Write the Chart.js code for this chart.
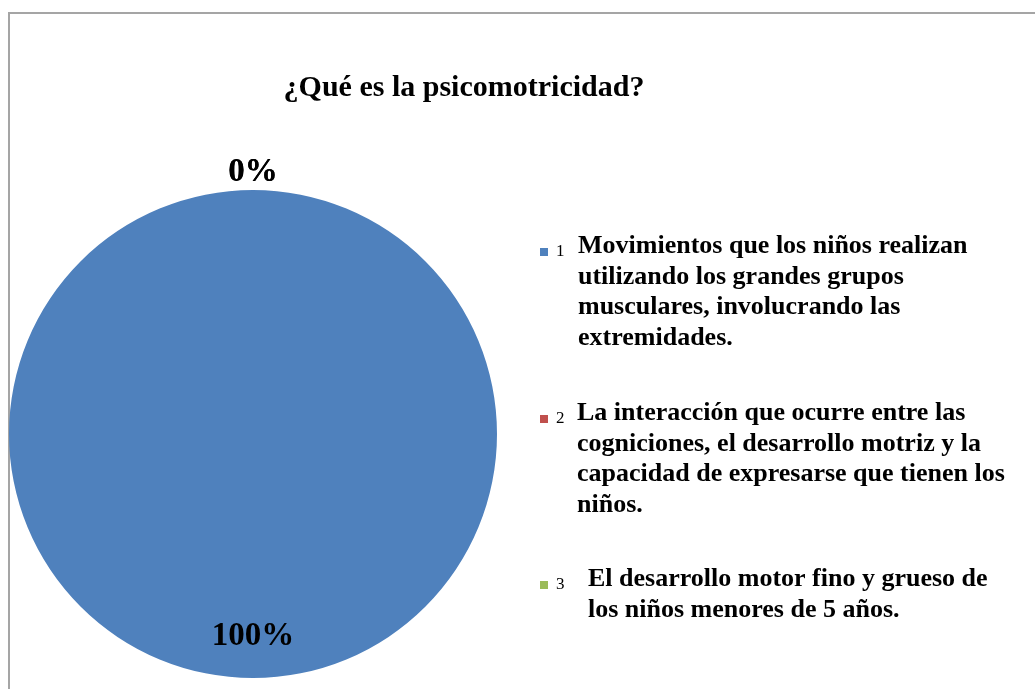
<!DOCTYPE html>
<html>
<head>
<meta charset="utf-8">
<script src="https://cdn.jsdelivr.net/npm/chart.js@4.4.0/dist/chart.umd.min.js"></script>
<style>
html, body { margin: 0; padding: 0; background: #fff; overflow: hidden; }
#frame { position: absolute; left: 8px; top: 12px; width: 1100px; height: 800px; border: 2px solid #a5a5a5; }
#chart { position: absolute; left: 0; top: 0; }
</style>
</head>
<body>
<div id="frame"></div>
<canvas id="chart" width="1035" height="689"></canvas>
<script>
var chartTitle = "¿Qué es la psicomotricidad?";
var categories = ["1", "2", "3"];
var descriptions = [
    ["Movimientos que los niños realizan", "utilizando los grandes grupos", "musculares, involucrando las", "extremidades."],
    ["La interacción que ocurre entre las", "cogniciones, el desarrollo motriz y la", "capacidad de expresarse que tienen los", "niños."],
    ["El desarrollo motor fino y grueso de", "los niños menores de 5 años."]
];
var percentages = [100, 0, 0];
var sliceColors = ["#4F81BD", "#C0504D", "#9BBB59"];

// layout of the side legend (first line baselines, text x)
var legendBaselines = [253, 420, 586];
var legendTextX = [578, 577, 588];
var legendLineHeight = 30.5;

var titlePlugin = {
    id: 'titleText',
    afterDraw: function (chart) {
        var ctx = chart.ctx;
        ctx.save();
        ctx.font = 'bold 30px "Liberation Serif"';
        ctx.fillStyle = '#000';
        ctx.textAlign = 'center';
        ctx.textBaseline = 'alphabetic';
        ctx.fillText(chartTitle, 464, 96);
        ctx.restore();
    }
};

var legendPlugin = {
    id: 'sideLegend',
    afterDraw: function (chart) {
        var ctx = chart.ctx;
        var ds = chart.data.datasets[0];
        ctx.save();
        ctx.textBaseline = 'alphabetic';
        ctx.textAlign = 'left';
        for (var i = 0; i < chart.data.labels.length; i++) {
            var y = legendBaselines[i];
            ctx.fillStyle = ds.backgroundColor[i];
            ctx.fillRect(540, y - 5, 8, 8);
            ctx.fillStyle = '#000';
            ctx.font = '17px "Liberation Serif"';
            ctx.fillText(chart.data.labels[i], 556, y + 3);
            ctx.font = 'bold 26px "Liberation Serif"';
            var lines = descriptions[i];
            for (var j = 0; j < lines.length; j++) {
                ctx.fillText(lines[j], legendTextX[i], y + j * legendLineHeight);
            }
        }
        ctx.restore();
    }
};

var labelPlugin = {
    id: 'pctLabels',
    afterDatasetsDraw: function (chart) {
        var meta = chart.getDatasetMeta(0);
        var ctx = chart.ctx;
        ctx.save();
        ctx.font = 'bold 33px "Liberation Serif"';
        ctx.textAlign = 'center';
        ctx.textBaseline = 'middle';
        ctx.fillStyle = '#000';
        meta.data.forEach(function (arc, i) {
            var p = arc.getProps(['x', 'y', 'startAngle', 'endAngle', 'outerRadius'], true);
            var mid = (p.startAngle + p.endAngle) / 2;
            var r = percentages[i] > 0 ? p.outerRadius * 0.82 : p.outerRadius + 20;
            ctx.fillText(percentages[i] + '%', p.x + Math.cos(mid) * r, p.y + Math.sin(mid) * r + 2);
        });
        ctx.restore();
    }
};

var ctx = document.getElementById("chart").getContext("2d");
new Chart(ctx, {
    type: 'pie',
    data: {
        labels: categories,
        datasets: [{
            data: percentages,
            backgroundColor: sliceColors,
            borderWidth: 0
        }]
    },
    options: {
        responsive: false,
        animation: false,
        layout: { padding: { left: 9, right: 538, top: 190, bottom: 11 } },
        plugins: {
            legend: { display: false },
            tooltip: { enabled: false },
            title: { display: false }
        }
    },
    plugins: [labelPlugin, titlePlugin, legendPlugin]
});
</script>
</body>
</html>
